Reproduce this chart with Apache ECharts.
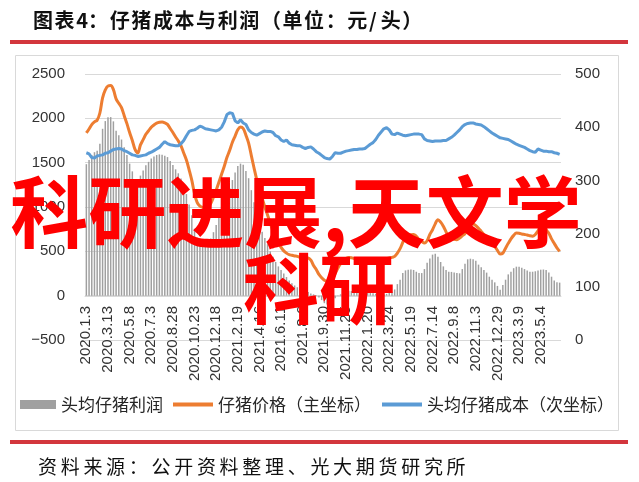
<!DOCTYPE html>
<html><head><meta charset="utf-8">
<script src="https://cdn.jsdelivr.net/npm/echarts@6/dist/echarts.min.js"></script>
<style>html,body{margin:0;padding:0;background:#fff}#c{width:639px;height:482px}</style>
</head><body><div id="c"></div>
<script>
const categories = [
"2020.1.3","2020.1.10","2020.1.17","2020.2.7","2020.2.14","2020.2.21","2020.2.28","2020.3.6","2020.3.13","2020.3.20",
"2020.3.27","2020.4.3","2020.4.10","2020.4.17","2020.4.24","2020.5.1","2020.5.8","2020.5.15","2020.5.22","2020.5.29",
"2020.6.5","2020.6.12","2020.6.19","2020.6.26","2020.7.3","2020.7.10","2020.7.17","2020.7.24","2020.7.31","2020.8.7",
"2020.8.14","2020.8.21","2020.8.28","2020.9.4","2020.9.11","2020.9.18","2020.9.25","2020.10.2","2020.10.9","2020.10.16",
"2020.10.23","2020.10.30","2020.11.6","2020.11.13","2020.11.20","2020.11.27","2020.12.4","2020.12.11","2020.12.18","2020.12.25",
"2021.1.1","2021.1.8","2021.1.15","2021.1.22","2021.1.29","2021.2.5","2021.2.19","2021.2.26","2021.3.5","2021.3.12",
"2021.3.19","2021.3.26","2021.4.2","2021.4.9","2021.4.16","2021.4.23","2021.4.30","2021.5.7","2021.5.14","2021.5.21",
"2021.5.28","2021.6.4","2021.6.11","2021.6.18","2021.6.25","2021.7.2","2021.7.9","2021.7.16","2021.7.23","2021.7.30",
"2021.8.6","2021.8.13","2021.8.20","2021.8.27","2021.9.3","2021.9.10","2021.9.17","2021.9.24","2021.9.30","2021.10.7",
"2021.10.14","2021.10.21","2021.10.28","2021.11.4","2021.11.11","2021.11.18","2021.11.25","2021.12.2","2021.12.9","2021.12.16",
"2021.12.23","2021.12.30","2022.1.6","2022.1.13","2022.1.20","2022.1.27","2022.2.10","2022.2.17","2022.2.24","2022.3.3",
"2022.3.10","2022.3.17","2022.3.24","2022.3.31","2022.4.7","2022.4.14","2022.4.21","2022.4.28","2022.5.5","2022.5.12",
"2022.5.19","2022.5.26","2022.6.2","2022.6.9","2022.6.16","2022.6.23","2022.6.30","2022.7.7","2022.7.14","2022.7.21",
"2022.7.28","2022.8.4","2022.8.11","2022.8.18","2022.8.25","2022.9.1","2022.9.8","2022.9.15","2022.9.22","2022.9.29",
"2022.10.6","2022.10.13","2022.10.20","2022.10.27","2022.11.3","2022.11.10","2022.11.17","2022.11.24","2022.12.1","2022.12.8",
"2022.12.15","2022.12.22","2022.12.29","2023.1.5","2023.1.12","2023.2.2","2023.2.9","2023.2.16","2023.2.23","2023.3.2",
"2023.3.9","2023.3.16","2023.3.23","2023.3.30","2023.4.6","2023.4.13","2023.4.20","2023.4.27","2023.5.4","2023.5.11",
"2023.5.18","2023.5.25","2023.6.1","2023.6.8","2023.6.15","2023.6.21"
];
// 头均仔猪利润 (left axis)
const profit = [
1483,1530,1587,1618,1634,1713,1882,1969,2013,2014,
1966,1861,1810,1761,1674,1586,1489,1402,1303,1265,
1354,1413,1472,1509,1547,1569,1586,1593,1590,1577,
1563,1518,1474,1425,1380,1321,1235,1146,1028,906,
755,652,608,595,593,604,645,716,797,885,
970,1050,1136,1213,1304,1388,1462,1489,1477,1405,
1325,1190,1053,925,812,720,650,580,500,440,
380,330,290,250,210,170,140,115,95,70,
55,45,40,25,15,5,-20,-50,-85,-100,
-90,-60,-30,-5,15,35,50,55,52,48,
45,42,40,38,35,30,28,22,18,15,
14,20,30,45,70,130,180,257,285,293,
295,290,270,257,255,300,372,420,463,474,
440,380,330,290,270,268,262,255,252,300,
360,410,417,410,395,350,320,290,260,214,
180,150,110,68,120,180,240,270,310,327,
327,315,300,285,270,270,275,285,293,295,
290,260,214,170,150,147
];
// 仔猪价格 (left axis)
const price = [
1835,1880,1930,1960,1980,2060,2230,2320,2365,2369,
2324,2220,2170,2120,2030,1940,1840,1750,1650,1610,
1700,1760,1820,1860,1900,1925,1945,1955,1958,1950,
1932,1885,1840,1790,1745,1690,1610,1530,1420,1300,
1150,1050,1010,995,990,1000,1040,1110,1190,1280,
1370,1460,1560,1640,1730,1800,1870,1903,1885,1810,
1720,1580,1440,1310,1200,1100,1000,910,820,730,
650,600,545,505,480,462,455,448,443,430,
415,408,425,400,340,295,240,203,175,160,
170,200,250,310,360,400,420,430,428,420,
415,412,410,408,406,405,408,404,402,406,
410,418,425,432,443,480,530,600,660,680,
688,690,670,632,610,594,620,690,744,810,
857,830,782,720,660,645,635,632,650,675,
700,760,815,810,790,760,725,690,665,620,
580,555,510,470,480,535,590,640,680,707,
705,695,690,685,675,670,690,730,770,782,
740,705,640,590,540,500
];
// 头均仔猪成本 (right axis)
const cost = [
352,350,343,342,346,347,348,351,352,355,
358,359,360,359,356,354,351,348,347,345,
346,347,348,351,353,356,359,362,368,373,
369,367,366,365,365,369,375,384,392,394,
395,398,402,400,397,396,395,394,393,395,
400,410,424,427,426,412,408,414,408,405,
395,390,387,385,388,391,393,392,392,390,
384,382,376,373,376,370,367,366,365,365,
362,360,362,363,359,354,351,347,343,341,
340,345,352,351,351,353,355,356,357,358,
358,359,359,360,364,368,371,377,385,391,
397,399,395,387,386,389,387,385,384,385,
386,387,387,387,386,378,375,374,373,374,
374,374,375,375,378,381,385,390,395,401,
405,407,408,408,406,405,404,401,397,393,
389,386,383,380,379,378,377,374,371,368,
366,364,362,359,356,354,353,359,357,355,
355,354,354,352,351,349
];
const seriesNames = ['头均仔猪利润','仔猪价格（主坐标）','头均仔猪成本（次坐标）'];
const titleText = '图表4：仔猪成本与利润（单位：元/头）';
const sourceText = '资料来源：公开资料整理、光大期货研究所';
const watermark1 = '科研进展,天文学';
const watermark2 = '科研';

const CJK = '"Noto Sans CJK SC", sans-serif';
function spaced(text, x, y, pitch, font, fill) {
  const out = [];
  let cx = x;
  for (const ch of text) {
    const half = ch.charCodeAt(0) < 0x2000;
    out.push({type:'text', z:50, style:{text:ch, x:cx, y:y, font:font, fill:fill, textVerticalAlign:'middle', verticalAlign:'middle'}});
    cx += half ? pitch*0.55 : pitch;
  }
  return out;
}
const graphics = [].concat(
  spaced(titleText, 33, 20, 21.6, 'bold 20px ' + CJK, '#111'),
  spaced(sourceText, 38, 467, 22.7, '19px ' + CJK, '#111'),
  [
    {type:'rect', z:40, shape:{x:10, y:40, width:618, height:4}, style:{fill:'#d3363d'}},
    {type:'rect', z:40, shape:{x:10, y:440, width:618, height:4}, style:{fill:'#d3363d'}},
    {type:'rect', z:1, shape:{x:15.5, y:55.5, width:603, height:375}, style:{fill:null, stroke:'#d9d9d9', lineWidth:1}},
    {type:'text', z:100, style:{text:watermark1, x:296, y:212, font:'bold 78px ' + CJK, fill:'#ff0000', textAlign:'center', align:'center', textVerticalAlign:'middle', verticalAlign:'middle'}},
    {type:'text', z:100, style:{text:watermark2, x:319, y:289, font:'bold 76px ' + CJK, fill:'#ff0000', textAlign:'center', align:'center', textVerticalAlign:'middle', verticalAlign:'middle'}}
  ]
);

const axisFont = {fontSize:15, color:'#333', fontFamily:'"Liberation Sans", Arial, sans-serif'};
const legendText = {fontSize:17, color:'#262626', fontFamily:CJK};
const chart = echarts.init(document.getElementById('c'), null, {renderer:'canvas'});
chart.setOption({
  animation:false,
  grid:{left:85, right:78, top:74, bottom:142},
  legend:[
    {left:20, top:396, padding:0, itemWidth:36, itemHeight:9, textStyle:legendText, data:[{name:seriesNames[0], icon:'rect'}]},
    {left:173, top:396, padding:0, itemWidth:40, itemHeight:4, textStyle:legendText, data:[{name:seriesNames[1], icon:'rect'}]},
    {left:382, top:396, padding:0, itemWidth:40, itemHeight:4, textStyle:legendText, data:[{name:seriesNames[2], icon:'rect'}]}
  ],
  xAxis:{type:'category', data:categories, position:'bottom', offset:-44,
    axisLine:{onZero:false, lineStyle:{color:'#d9d9d9'}},
    axisTick:{show:false},
    axisLabel:Object.assign({interval:7, rotate:90, margin:10}, axisFont)},
  yAxis:[
    {type:'value', min:-500, max:2500, interval:500,
      axisLine:{show:false}, axisTick:{show:false},
      splitLine:{lineStyle:{color:'#d9d9d9'}},
      axisLabel:Object.assign({margin:20, formatter:v => v < 0 ? '\u2212' + Math.abs(v) : String(v)}, axisFont)},
    {type:'value', min:0, max:500, interval:100, position:'right',
      axisLine:{show:false}, axisTick:{show:false}, splitLine:{show:false},
      axisLabel:Object.assign({margin:14}, axisFont)}
  ],
  series:[
    {name:seriesNames[0], type:'bar', data:profit, color:'#a0a0a0', itemStyle:{color:'#a0a0a0'}, barCategoryGap:'45%', z:1},
    {name:seriesNames[1], type:'line', data:price, color:'#ed7d31', showSymbol:false, symbol:'none', smooth:0.35, lineStyle:{color:'#ed7d31', width:3}, z:3},
    {name:seriesNames[2], type:'line', yAxisIndex:1, data:cost, color:'#5b9bd5', showSymbol:false, symbol:'none', lineStyle:{color:'#5b9bd5', width:3}, z:4}
  ],
  graphic:{elements:graphics}
});
</script>
</body></html>
